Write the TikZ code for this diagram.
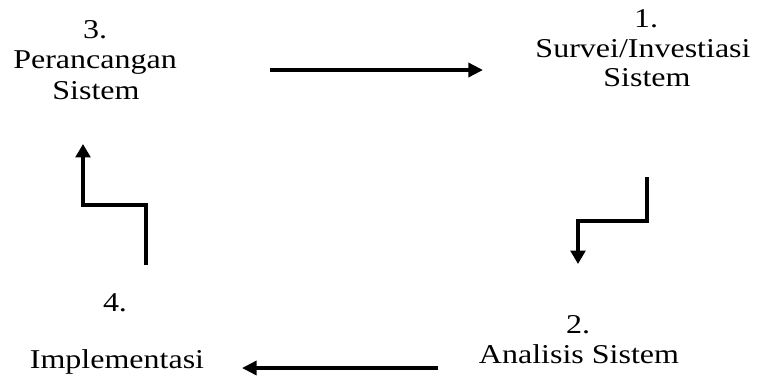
\documentclass[tikz,border=0pt]{standalone}
\usepackage{fontspec}
\usepackage{graphicx}
\setmainfont{Liberation Serif}
\usetikzlibrary{arrows.meta}
% text set slightly lower than wide
\newcommand{\lowtext}[1]{\scalebox{1}[0.85]{#1}}
\begin{document}
\begin{tikzpicture}[x=0.75pt,y=-0.75pt,
  lbl/.style={anchor=base,inner sep=0pt,font=\fontsize{24}{28}\selectfont},
  flow/.style={line width=2.6pt,-{Triangle[length=11pt,width=10.5pt]}},
  elbow/.style={line width=2.4pt,line join=miter,-{Triangle[length=10pt,width=11pt]}}]
\useasboundingbox (0,0) rectangle (758,376);
% step 3
\node[lbl] (n3a) at (95,38) {\lowtext{3.}};
\node[lbl] (n3b) at (95,68) {\lowtext{Perancangan}};
\node[lbl] (n3c) at (96,99) {\lowtext{Sistem}};
% step 1
\node[lbl] (n1a) at (646,27) {\lowtext{1.}};
\node[lbl] (n1b) at (643,57) {\lowtext{Survei/Investiasi}};
\node[lbl] (n1c) at (647,86) {\lowtext{Sistem}};
% step 4
\node[lbl] (n4a) at (115,311) {\lowtext{4.}};
\node[lbl] (n4b) at (117,368) {\lowtext{Implementasi}};
% step 2
\node[lbl] (n2a) at (578,333) {\lowtext{2.}};
\node[lbl] (n2b) at (579,363) {\lowtext{Analisis Sistem}};
% connector end points
\coordinate (a1) at (270,70);
\coordinate (a2) at (483,70);
\coordinate (b1) at (647,177);
\coordinate (b2) at (578,264);
\coordinate (c1) at (438,368);
\coordinate (c2) at (242,368);
\coordinate (d1) at (146,265);
\coordinate (d2) at (83,144);
% 3 -> 1
\draw[flow] (a1) -- (a2);
% 1 -> 2
\draw[elbow] (b1) -- (b1 |- 0,221) -- (b2 |- 0,221) -- (b2);
% 2 -> 4
\draw[flow] (c1) -- (c2);
% 4 -> 3
\draw[elbow] (d1) -- (d1 |- 0,205) -- (d2 |- 0,205) -- (d2);
\end{tikzpicture}
\end{document}
